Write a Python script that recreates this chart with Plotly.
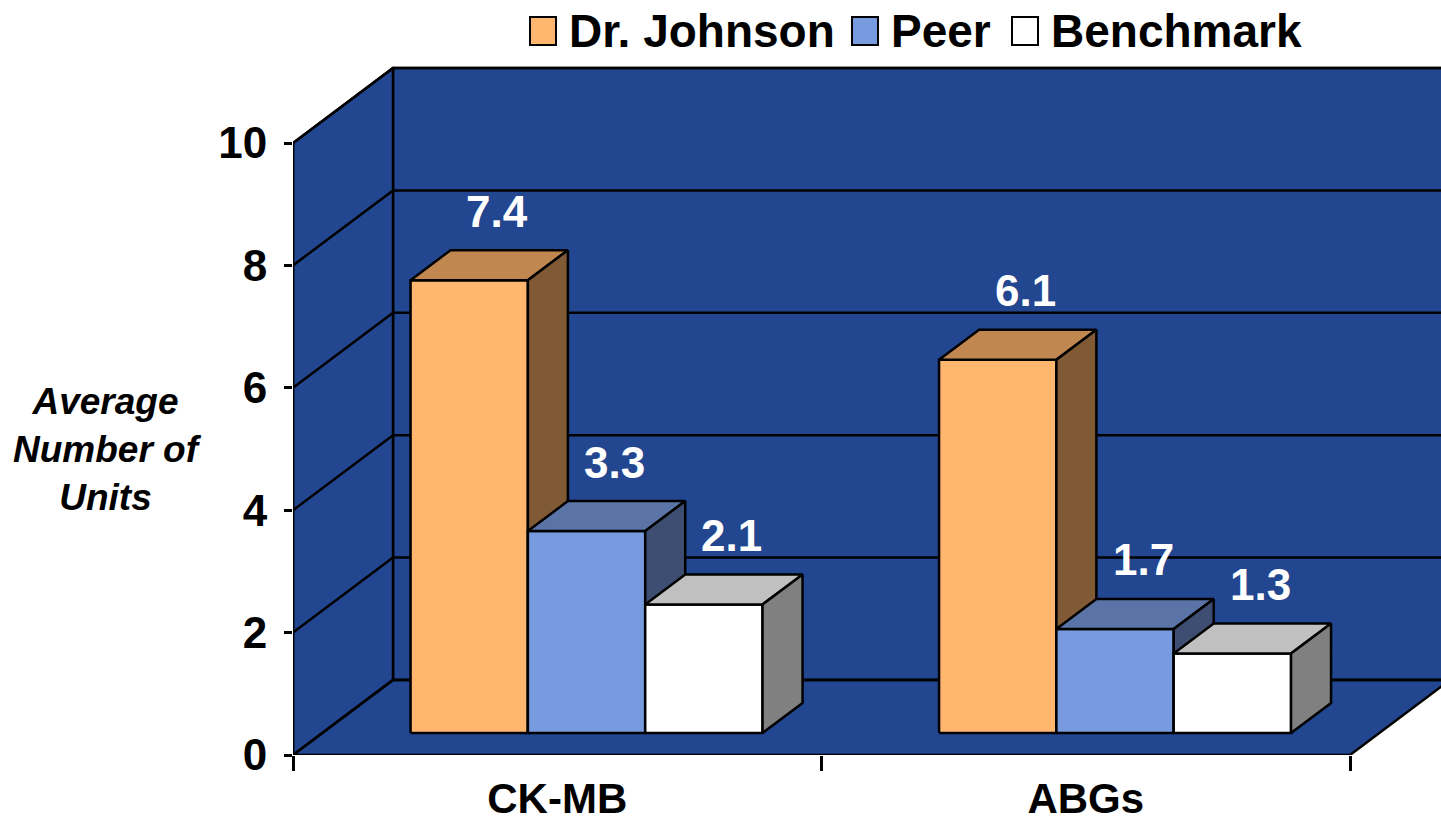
import plotly.graph_objects as go

# ---- data ----
categories = ["CK-MB", "ABGs"]
series_names = ["Dr. Johnson", "Peer", "Benchmark"]
dr_johnson = [7.4, 6.1]
peer = [3.3, 1.7]
benchmark = [2.1, 1.3]
y_ticks = [0, 2, 4, 6, 8, 10]
y_title = "Average<br>Number of<br>Units"

series_values = [dr_johnson, peer, benchmark]

# ---- styling ----
FONT = "Liberation Sans, Arial, sans-serif"
WALL = "#22468F"
# (front, top, side) face colours per series
face_colors = [
    ("#FFB770", "#C08850", "#805A35"),
    ("#789BE0", "#5B74A7", "#3D4E72"),
    ("#FFFFFF", "#C0C0C0", "#808080"),
]

FIG_W, FIG_H = 1441, 824
M_L, M_B = 293, 69
PX_PER_CAT = 528.5
PX_PER_UNIT = 61.2
DX = 100 / PX_PER_CAT          # depth projection along x (category units)
DY = 75 / PX_PER_UNIT          # depth projection along y (value units)
X_MAX = (FIG_W - M_L) / PX_PER_CAT
Y_MAX = (FIG_H - M_B) / PX_PER_UNIT
BAR_W = 0.222
BAR_Z0, BAR_Z1 = 0.293, 0.693  # bar front / back as fraction of floor depth
LW = 2.5

n_cat = len(categories)
top_val = max(y_ticks)


def proj(x, v, z):
    return x + z * DX, v + z * DY


def poly(points, fill, lw=LW):
    xs = [p[0] for p in points] + [points[0][0]]
    ys = [p[1] for p in points] + [points[0][1]]
    return go.Scatter(x=xs, y=ys, mode="lines", fill="toself", fillcolor=fill,
                      line=dict(color="black", width=lw), hoverinfo="skip",
                      showlegend=False)


def line(points, lw=LW):
    return go.Scatter(x=[p[0] for p in points], y=[p[1] for p in points],
                      mode="lines", line=dict(color="black", width=lw),
                      hoverinfo="skip", showlegend=False)


fig = go.Figure()

# back wall
far = X_MAX + 0.2
fig.add_trace(poly([proj(0, 0, 1), proj(far, 0, 1), proj(far, top_val, 1),
                    proj(0, top_val, 1)], WALL))
# side wall
fig.add_trace(poly([proj(0, 0, 0), proj(0, 0, 1), proj(0, top_val, 1),
                    proj(0, top_val, 0)], WALL))
# floor
fig.add_trace(poly([proj(0, 0, 0), proj(0, 0, 1), proj(n_cat, 0, 1),
                    proj(n_cat, 0, 0)], WALL))

# gridlines on back and side walls
for t in y_ticks:
    fig.add_trace(line([proj(0, t, 0), proj(0, t, 1), proj(far, t, 1)]))
# y axis line
fig.add_trace(line([proj(0, 0, 0), proj(0, top_val, 0)]))

# bars, drawn left to right so neighbours overlap correctly
annotations = []
for i in range(n_cat):
    for j, vals in enumerate(series_values):
        h = vals[i]
        front, top, side = face_colors[j]
        x0 = i + 0.5 - 1.5 * BAR_W + j * BAR_W
        x1 = x0 + BAR_W
        fig.add_trace(poly([proj(x0, 0, BAR_Z0), proj(x1, 0, BAR_Z0),
                            proj(x1, h, BAR_Z0), proj(x0, h, BAR_Z0)], front))
        fig.add_trace(poly([proj(x0, h, BAR_Z0), proj(x1, h, BAR_Z0),
                            proj(x1, h, BAR_Z1), proj(x0, h, BAR_Z1)], top))
        fig.add_trace(poly([proj(x1, 0, BAR_Z0), proj(x1, 0, BAR_Z1),
                            proj(x1, h, BAR_Z1), proj(x1, h, BAR_Z0)], side))
        lx, ly = proj((x0 + x1) / 2, h, BAR_Z1)
        lx -= (BAR_Z1 - BAR_Z0) / 2 * DX
        annotations.append(dict(
            x=lx, y=ly, xref="x", yref="y", text=f"{h:.1f}", showarrow=False,
            xanchor="center", yanchor="middle", xshift=8, yshift=39,
            font=dict(family=FONT, size=44, color="white", weight="bold")))

# y axis title
annotations.append(dict(
    x=(107 - M_L) / (FIG_W - M_L), y=(FIG_H - M_B - 450) / (FIG_H - M_B),
    xref="paper", yref="paper", text=f"<i>{y_title}</i>", showarrow=False,
    xanchor="center", yanchor="middle", align="center",
    font=dict(family=FONT, size=37, color="black", weight="bold")))

# legend: swatches + labels across the top
legend_left_px = [530, 852, 1012]
plot_w, plot_h = FIG_W - M_L, FIG_H - M_B
shapes = []
for name, (front, _, _), lpx in zip(series_names, face_colors, legend_left_px):
    shapes.append(dict(
        type="rect", xref="paper", yref="paper",
        x0=(lpx - M_L) / plot_w, x1=(lpx + 26 - M_L) / plot_w,
        y0=(plot_h - 45) / plot_h, y1=(plot_h - 17) / plot_h,
        fillcolor=front, line=dict(color="black", width=2)))
    annotations.append(dict(
        x=(lpx + 37 - M_L) / plot_w, y=(plot_h - 31) / plot_h,
        xref="paper", yref="paper", text=name, showarrow=False,
        xanchor="left", yanchor="middle",
        font=dict(family=FONT, size=46, color="black", weight="bold")))

fig.update_layout(
    width=FIG_W, height=FIG_H,
    margin=dict(l=M_L, r=0, t=0, b=M_B, autoexpand=False),
    paper_bgcolor="white", plot_bgcolor="white",
    showlegend=False,
    annotations=annotations, shapes=shapes,
    xaxis=dict(
        range=[0, X_MAX], showgrid=False, zeroline=False, showline=False,
        automargin=False,
        tickvals=[i + 0.5 for i in range(n_cat)], ticktext=categories,
        ticks="", ticklabelstandoff=15,
        tickfont=dict(family=FONT, size=42, color="black", weight="bold"),
        minor=dict(tickvals=list(range(n_cat + 1)), ticks="outside",
                   ticklen=15, tickwidth=LW, tickcolor="black", showgrid=False),
        fixedrange=True,
    ),
    yaxis=dict(
        range=[0, Y_MAX], showgrid=False, zeroline=False, showline=False,
        automargin=False,
        tickvals=y_ticks, ticks="outside", ticklen=8, tickwidth=LW,
        tickcolor="black", ticklabelstandoff=8,
        tickfont=dict(family=FONT, size=44, color="black", weight="bold"),
        fixedrange=True,
    ),
)

fig.write_html("out.html")
